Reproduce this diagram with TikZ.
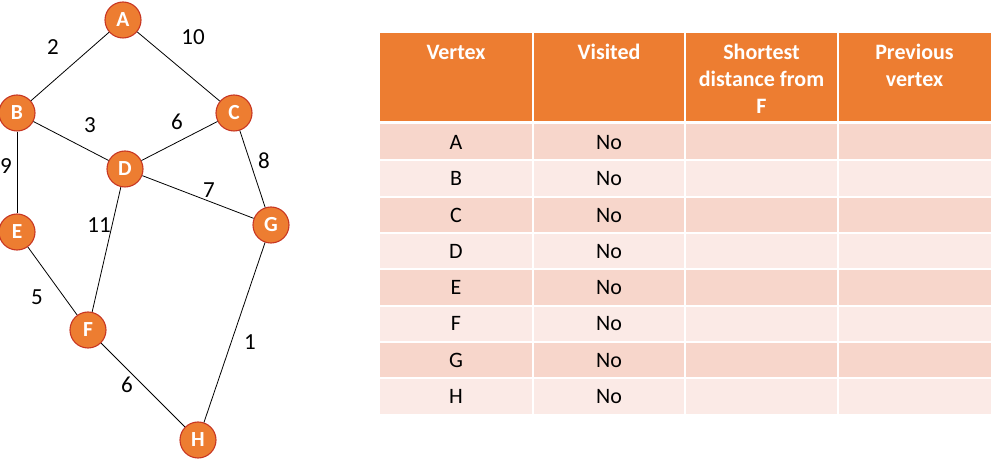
\documentclass[tikz,border=0pt]{standalone}
\usepackage{fontspec}
\setmainfont{Carlito}
\definecolor{accent}{HTML}{ED7D31}
\definecolor{ringred}{RGB}{200,55,35}
\definecolor{bandA}{HTML}{F7D6CB}
\definecolor{bandB}{HTML}{FBEAE6}
\begin{document}
\begin{tikzpicture}[x=1pt,y=-1pt,
  vert/.style={circle,fill=accent,draw=ringred,line width=1.1pt,minimum size=36pt,inner sep=0pt,
    text=white,font=\fontsize{21.5}{25}\selectfont\bfseries},
  wlabel/.style={inner sep=0pt,font=\fontsize{23}{27}\selectfont},
  edge/.style={draw=black,line width=0.8pt},
  hdr/.style={anchor=north,inner sep=0pt,align=center,text=white,font=\fontsize{22}{27}\selectfont\bfseries},
  cell/.style={anchor=base,inner sep=0pt,font=\fontsize{22}{27}\selectfont},
  sep/.style={draw=white,line width=2pt}]
\useasboundingbox (0,0) rectangle (997,462);
% graph
\node[vert] (A) at (123,20) {A};
\node[vert] (B) at (17,113) {B};
\node[vert] (C) at (234,113) {C};
\node[vert] (D) at (125,169) {D};
\node[vert] (E) at (17,232) {E};
\node[vert] (F) at (88,330) {F};
\node[vert] (G) at (271,225) {G};
\node[vert] (H) at (198,440) {H};
\draw[edge] (A) -- (B);
\draw[edge] (A) -- (C);
\draw[edge] (B) -- (D);
\draw[edge] (C) -- (D);
\draw[edge] (C) -- (G);
\draw[edge] (B) -- (E);
\draw[edge] (D) -- (G);
\draw[edge] (D) -- (F);
\draw[edge] (E) -- (F);
\draw[edge] (G) -- (H);
\draw[edge] (F) -- (H);
\node[wlabel] (lAB) at (53,47) {2};
\node[wlabel] (lAC) at (193,37) {10};
\node[wlabel] (lBD) at (90,125) {3};
\node[wlabel] (lCD) at (177,122) {6};
\node[wlabel] (lCG) at (264,161) {8};
\node[wlabel] (lBE) at (6,166) {9};
\node[wlabel] (lDG) at (209,190) {7};
\node[wlabel] (lDF) at (99,225) {11};
\node[wlabel] (lEF) at (37,297) {5};
\node[wlabel] (lGH) at (250,342) {1};
\node[wlabel] (lFH) at (127,385) {6};
% table
\fill[accent] (380,33) rectangle (991,122);
\foreach \i/\t/\b in {0/124/160.5,1/160.5/197,2/197/233,3/233/269.5,4/269.5/306,5/306/342,6/342/378.5,7/378.5/414}{
  \pgfmathtruncatemacro{\parity}{mod(\i,2)}
  \ifnum\parity=0 \fill[bandA] (380,\t) rectangle (991,\b); \else \fill[bandB] (380,\t) rectangle (991,\b); \fi
}
\draw[white,line width=3pt] (380,122.5) -- (991,122.5);
\foreach \y in {160.5,197,233,269.5,306,342,378.5}{\draw[sep] (380,\y) -- (991,\y);}
\foreach \x in {532.5,685,838}{\draw[sep] (\x,33) -- (\x,414);}
\node[hdr] (h1) at (456,43.5) {\vphantom{Sh}Vertex};
\node[hdr] (h2) at (609,43.5) {\vphantom{Sh}Visited};
\node[hdr] (h3) at (761.5,43.5) {Shortest\\distance from\\F};
\node[hdr] (h4) at (914.5,43.5) {Previous\\vertex};
\foreach \n/\l/\y in {1/A/149.5,2/B/186,3/C/222.5,4/D/258.5,5/E/295,6/F/331,7/G/367.5,8/H/404}{
  \node[cell] (v\n) at (456,\y) {\l};
  \node[cell] (s\n) at (609,\y) {No};
}
\end{tikzpicture}
\end{document}
